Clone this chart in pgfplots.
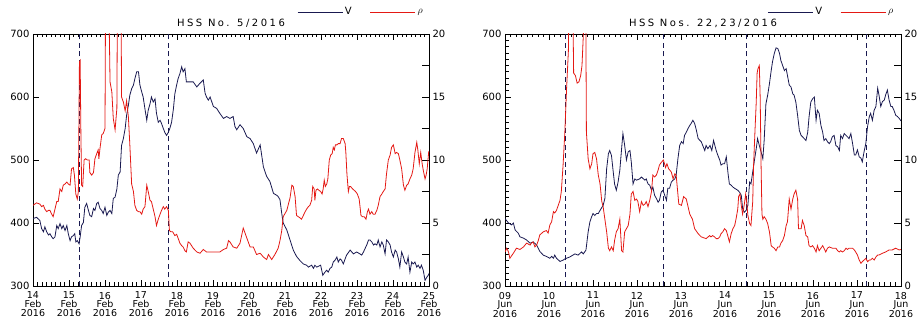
\documentclass[border=0pt]{standalone}
\usepackage{pgfplots}
\pgfplotsset{compat=1.18}
\usepackage{fontspec}
\setmainfont{DejaVu Sans}
\newfontfamily\lsfont[LetterSpace=25]{DejaVu Sans}
\definecolor{navy}{RGB}{25,25,80}
\definecolor{myred}{RGB}{228,25,20}
\pgfplotsset{
  base/.style={scale only axis, width=396pt, height=252pt,
    tick align=inside, major tick length=6pt, minor tick length=3.5pt,
    every tick/.style={black, line width=0.7pt},
    every minor tick/.style={black, line width=0.6pt},
    axis line style={black, line width=0.8pt},
    /pgf/number format/assume math mode=true,
    yticklabel style={font=\fontsize{10}{9}\selectfont},
    clip=true},
  vax/.style={base, ymin=300, ymax=700, ytick={300,400,...,700}, ytick pos=left,
    minor x tick num=7,
    xticklabel style={align=center, yshift=-2.5pt, font=\fontsize{9.5}{8.7}\selectfont},
    every axis title shift=0pt,
    title style={at={(0.5,1)}, anchor=base, yshift=7.5pt, font=\lsfont\fontsize{10}{12}\selectfont}},
  rax/.style={base, ymin=0, ymax=20, axis x line=none, axis y line*=right,
    ytick={0,2.5,5,7.5,10,12.5,15,17.5,20}, yticklabels={0,,5,,10,,15,,20},
    major tick length=7pt,
    legend style={anchor=west, yshift=22pt, xshift=2pt, draw=none, fill=none, legend columns=2,
      font=\fontsize{10}{10}\selectfont,
      /tikz/every even column/.append style={column sep=16pt}},
    legend image code/.code={\draw[#1] (0pt,0pt) -- (45pt,0pt);}},
  vline/.style={navy, line width=0.8pt},
  rline/.style={myred, line width=0.8pt},
  dline/.style={navy, line width=0.8pt, dash pattern=on 5pt off 3.5pt}
}
\begin{document}
\begin{tikzpicture}
\path[use as bounding box] (-33pt,-40pt) rectangle (888pt,286pt);
% ---------------- LEFT PANEL ----------------
\begin{axis}[vax, at={(0pt,0pt)}, xmin=14, xmax=25, xtick={14,...,25},
  xticklabels={{14\\Feb\\2016},{15\\Feb\\2016},{16\\Feb\\2016},{17\\Feb\\2016},{18\\Feb\\2016},{19\\Feb\\2016},{20\\Feb\\2016},{21\\Feb\\2016},{22\\Feb\\2016},{23\\Feb\\2016},{24\\Feb\\2016},{25\\Feb\\2016}},
  title={HSS No. 5/2016}]
\addplot[dline] coordinates {(15.28,300) (15.28,700)};
\addplot[dline] coordinates {(17.77,300) (17.77,700)};
\addplot[vline] table {
14.00 407
14.10 409
14.19 404
14.24 391
14.29 386
14.33 394
14.38 386
14.43 381
14.47 383
14.52 378
14.56 375
14.61 378
14.66 396
14.70 391
14.75 399
14.80 391
14.84 396
14.89 388
14.94 396
14.98 383
15.03 372
15.07 378
15.12 380
15.16 383
15.19 370
15.23 372
15.28 367
15.31 378
15.35 396
15.40 401
15.44 425
15.49 431
15.54 420
15.58 412
15.63 410
15.68 423
15.72 420
15.77 431
15.81 433
15.86 423
15.91 420
15.95 415
16.00 425
16.05 412
16.09 417
16.14 420
16.19 415
16.23 439
16.28 441
16.33 454
16.37 476
16.42 481
16.46 523
16.51 534
16.56 550
16.60 571
16.65 587
16.69 603
16.74 613
16.79 619
16.83 629
16.88 640
16.93 640
16.97 619
17.02 608
17.06 600
17.11 581
17.16 563
17.20 579
17.25 589
17.29 600
17.34 592
17.39 597
17.43 574
17.48 560
17.53 563
17.57 558
17.62 550
17.66 544
17.71 539
17.76 544
17.80 550
17.85 560
17.90 581
17.94 605
17.99 619
18.03 629
18.08 637
18.13 648
18.17 640
18.22 645
18.26 624
18.31 624
18.36 624
18.45 624
18.55 616
18.64 622
18.73 627
18.78 606
18.82 600
18.87 595
18.92 600
19.01 585
19.10 582
19.19 574
19.29 566
19.38 569
19.47 566
19.56 569
19.61 553
19.66 548
19.75 556
19.84 550
19.94 537
20.03 534
20.12 526
20.21 511
20.31 524
20.40 489
20.49 474
20.58 466
20.68 447
20.77 444
20.81 442
20.86 437
20.91 415
20.95 400
21.05 389
21.14 373
21.23 357
21.32 347
21.42 340
21.51 335
21.60 333
21.65 330
21.74 333
21.79 328
21.83 333
21.88 330
21.99 333
22.05 317
22.11 322
22.16 325
22.20 322
22.25 328
22.30 330
22.34 338
22.39 341
22.44 346
22.48 338
22.53 343
22.57 341
22.62 335
22.67 343
22.71 349
22.81 357
22.90 351
22.99 354
23.08 351
23.13 349
23.18 354
23.22 359
23.27 365
23.32 373
23.36 373
23.41 370
23.46 365
23.50 367
23.55 365
23.59 373
23.64 362
23.69 370
23.73 365
23.78 351
23.82 373
23.87 370
23.92 365
23.96 354
24.01 346
24.06 357
24.10 354
24.15 343
24.19 330
24.24 354
24.29 346
24.33 338
24.38 335
24.42 346
24.47 322
24.52 338
24.56 335
24.61 338
24.66 330
24.70 333
24.75 328
24.79 333
24.84 325
24.89 309
24.94 314
24.98 317
25.00 320
};
\end{axis}
\begin{axis}[rax, at={(0pt,0pt)}, xmin=14, xmax=25, legend style={at={(0.654,1)}}]
\addlegendimage{vline}
\addlegendentry{V}
\addplot[rline] table {
14.00 6.4
14.10 6.6
14.19 6.5
14.24 6.3
14.29 6.4
14.33 6.1
14.38 5.9
14.43 6.0
14.47 6.0
14.52 5.7
14.56 5.5
14.61 6.1
14.66 6.7
14.70 6.7
14.75 7.7
14.80 7.5
14.84 8.0
14.89 8.1
14.94 8.25
14.98 8.1
15.03 8.0
15.07 9.3
15.12 9.4
15.15 8.8
15.19 7.3
15.23 6.9
15.26 7.5
15.29 17.8
15.31 17.9
15.33 12.2
15.35 8.0
15.38 7.9
15.42 10.0
15.46 10.1
15.51 10.0
15.56 10.0
15.58 9.0
15.63 8.8
15.68 9.0
15.72 10.1
15.77 10.5
15.81 10.8
15.83 10.1
15.86 10.9
15.91 12.0
15.95 12.1
16.00 12.5
16.02 26
16.09 26
16.14 16.2
16.19 15.4
16.23 13.3
16.28 12.4
16.33 14.1
16.35 26
16.44 26
16.46 15.0
16.51 14.6
16.56 13.9
16.60 14.7
16.65 13.4
16.69 11.2
16.74 8.1
16.79 7.5
16.83 6.4
16.88 6.0
16.93 5.9
16.97 5.9
17.02 5.7
17.06 6.1
17.11 6.3
17.16 8.0
17.20 7.5
17.25 6.8
17.29 6.7
17.34 6.1
17.39 5.5
17.43 4.8
17.48 5.3
17.53 5.7
17.57 6.0
17.62 6.3
17.66 6.1
17.71 6.3
17.76 6.0
17.79 4.4
17.83 4.3
17.88 4.3
17.94 4.0
17.99 4.1
18.03 3.8
18.08 3.4
18.13 3.2
18.17 3.1
18.22 2.8
18.26 2.7
18.31 3.5
18.36 3.4
18.45 3.0
18.55 2.7
18.64 2.6
18.73 2.9
18.82 2.7
18.92 2.7
19.01 2.7
19.10 2.7
19.19 2.7
19.29 2.9
19.38 3.0
19.43 3.6
19.47 3.5
19.56 3.1
19.66 3.0
19.75 3.4
19.84 4.6
19.94 3.8
20.03 3.1
20.12 3.1
20.21 2.5
20.31 2.6
20.40 2.3
20.49 2.1
20.54 2.5
20.63 2.1
20.72 2.5
20.81 3.0
20.86 3.6
20.91 4.4
20.95 5.5
21.05 6.0
21.14 7.0
21.19 8.0
21.23 7.9
21.28 7.1
21.32 5.6
21.42 5.4
21.46 5.3
21.51 5.6
21.56 5.9
21.60 6.1
21.65 6.3
21.69 6.4
21.74 6.8
21.77 7.9
21.81 7.7
21.83 6.8
21.86 7.6
21.90 7.7
21.94 7.6
21.99 7.5
22.03 7.3
22.06 7.7
22.09 8.4
22.12 7.9
22.16 8.1
22.19 8.5
22.23 10.0
22.27 10.4
22.31 10.5
22.34 11.0
22.37 10.8
22.40 11.2
22.44 11.2
22.48 11.3
22.53 11.3
22.57 11.7
22.62 11.7
22.67 11.3
22.69 10.6
22.72 8.9
22.76 7.5
22.79 7.9
22.82 7.9
22.88 7.7
22.92 7.6
22.96 7.5
23.01 7.3
23.06 6.9
23.08 6.4
23.11 5.6
23.15 5.5
23.20 5.5
23.25 5.3
23.29 5.9
23.32 6.1
23.36 5.7
23.41 5.9
23.45 5.7
23.50 5.7
23.55 6.0
23.59 6.4
23.64 7.1
23.69 7.3
23.73 7.5
23.78 7.7
23.82 8.9
23.87 10.0
23.92 10.4
23.96 11.0
24.01 11.2
24.06 10.5
24.10 10.6
24.15 10.5
24.19 10.0
24.24 9.3
24.29 8.0
24.33 7.6
24.38 8.0
24.42 8.1
24.47 8.5
24.52 8.8
24.56 9.3
24.61 10.6
24.66 11.4
24.69 10.8
24.73 9.7
24.77 10.6
24.81 9.7
24.84 9.2
24.89 8.5
24.92 8.8
24.95 9.3
24.99 10.6
25.00 10.7
};
\addlegendentry{$\rho$}
\end{axis}
% ---------------- RIGHT PANEL ----------------
\begin{axis}[vax, at={(472pt,0pt)}, xmin=9, xmax=18, xtick={9,...,18}, minor y tick num=9,
  xticklabels={{09\\Jun\\2016},{10\\Jun\\2016},{11\\Jun\\2016},{12\\Jun\\2016},{13\\Jun\\2016},{14\\Jun\\2016},{15\\Jun\\2016},{16\\Jun\\2016},{17\\Jun\\2016},{18\\Jun\\2016}},
  title={HSS Nos. 22,23/2016}]
\addplot[dline] coordinates {(10.37,300) (10.37,700)};
\addplot[dline] coordinates {(12.61,300) (12.61,700)};
\addplot[dline] coordinates {(14.49,300) (14.49,700)};
\addplot[dline] coordinates {(17.22,300) (17.22,700)};
\addplot[vline] table {
9.00 407
9.08 400
9.15 397
9.19 400
9.23 389
9.30 384
9.34 378
9.42 376
9.49 373
9.57 368
9.64 370
9.72 365
9.79 355
9.87 349
9.94 347
10.02 344
10.06 347
10.10 344
10.13 349
10.17 344
10.25 339
10.32 341
10.36 343
10.47 346
10.59 351
10.66 349
10.74 354
10.78 351
10.84 357
10.89 386
10.93 402
10.97 410
11.00 415
11.04 412
11.08 415
11.12 415
11.16 420
11.23 428
11.27 439
11.31 486
11.35 510
11.38 515
11.42 507
11.46 481
11.49 462
11.53 452
11.57 465
11.61 484
11.65 518
11.68 542
11.72 523
11.76 500
11.80 513
11.84 515
11.87 497
11.91 462
11.95 470
11.99 468
12.06 470
12.10 473
12.18 468
12.21 470
12.25 462
12.29 460
12.33 452
12.36 457
12.40 444
12.44 439
12.48 433
12.51 436
12.55 449
12.59 452
12.63 444
12.67 436
12.70 455
12.74 455
12.78 465
12.82 468
12.86 470
12.89 476
12.93 502
12.97 523
13.01 529
13.05 526
13.08 539
13.12 544
13.16 550
13.20 555
13.23 558
13.27 563
13.31 558
13.35 547
13.39 534
13.46 529
13.54 515
13.57 523
13.61 518
13.66 523
13.70 515
13.74 531
13.80 515
13.84 507
13.88 500
13.91 492
13.95 494
13.99 494
14.03 505
14.07 478
14.10 462
14.14 460
14.18 457
14.22 455
14.29 452
14.33 449
14.37 444
14.40 423
14.44 417
14.48 420
14.52 428
14.56 465
14.59 462
14.63 481
14.67 500
14.71 518
14.74 534
14.78 523
14.82 513
14.86 502
14.89 531
14.93 589
14.97 603
15.01 621
15.05 642
15.08 656
15.12 669
15.16 678
15.20 677
15.24 669
15.27 658
15.31 650
15.35 642
15.39 645
15.42 634
15.46 619
15.50 616
15.54 605
15.57 603
15.61 592
15.65 571
15.69 547
15.73 539
15.76 537
15.80 534
15.84 531
15.88 544
15.91 568
15.95 592
15.99 597
16.03 600
16.07 563
16.10 579
16.14 574
16.18 555
16.22 544
16.25 531
16.29 534
16.33 529
16.37 526
16.40 529
16.44 537
16.48 539
16.52 523
16.56 521
16.60 515
16.63 539
16.67 534
16.71 542
16.75 539
16.78 537
16.82 534
16.86 542
16.90 526
16.94 508
16.97 508
17.01 516
17.05 505
17.09 503
17.12 497
17.16 513
17.20 526
17.24 553
17.28 569
17.31 574
17.35 563
17.39 579
17.43 585
17.47 614
17.50 603
17.54 585
17.58 593
17.62 595
17.65 603
17.69 611
17.73 595
17.77 585
17.80 585
17.84 579
17.88 571
17.92 569
17.96 566
18.00 562
};
\end{axis}
\begin{axis}[rax, at={(472pt,0pt)}, xmin=9, xmax=18, legend style={at={(0.65,1)}}]
\addlegendimage{vline}
\addlegendentry{V}
\addplot[rline] table {
9.00 2.7
9.04 3.0
9.08 2.7
9.11 2.2
9.19 2.6
9.26 3.0
9.34 2.9
9.42 3.1
9.49 3.4
9.57 3.25
9.60 3.4
9.64 3.5
9.68 3.1
9.72 3.25
9.76 3.65
9.79 4.05
9.87 4.3
9.94 4.4
9.98 4.2
10.02 4.85
10.06 5.1
10.10 5.9
10.13 5.8
10.17 6.0
10.25 6.8
10.28 7.5
10.32 9.6
10.36 12.2
10.40 15.7
10.44 18.6
10.47 26
10.53 26
10.56 16.9
10.60 16.7
10.64 16.1
10.68 16.2
10.72 16.7
10.75 17.5
10.78 19.9
10.81 26
10.83 26
10.85 12.2
10.89 10.1
10.93 9.3
10.97 9.7
11.00 10.5
11.04 10.6
11.08 10.1
11.12 8.8
11.16 8.1
11.20 6.7
11.23 6.3
11.27 5.3
11.31 4.3
11.35 3.0
11.38 2.8
11.42 3.1
11.46 2.8
11.49 3.6
11.53 4.3
11.57 4.55
11.61 5.3
11.65 2.8
11.68 2.7
11.72 4.3
11.76 4.55
11.80 4.8
11.84 5.7
11.87 7.3
11.91 7.5
11.95 6.8
11.99 6.9
12.02 6.7
12.06 5.9
12.10 6.7
12.14 6.4
12.18 6.5
12.21 6.7
12.25 6.3
12.29 6.8
12.33 7.5
12.36 8.8
12.40 8.65
12.44 8.8
12.48 9.2
12.51 9.6
12.55 9.8
12.60 10.0
12.65 9.4
12.68 9.7
12.72 9.3
12.78 9.05
12.82 8.5
12.86 8.9
12.89 8.8
12.95 6.5
13.01 6.4
13.06 7.1
13.12 6.9
13.20 5.7
13.26 5.3
13.31 4.55
13.39 4.15
13.46 3.9
13.57 3.76
13.65 4.0
13.68 3.9
13.72 4.0
13.76 3.9
13.80 3.76
13.84 3.76
13.88 3.9
13.91 4.15
13.95 4.3
13.99 4.55
14.03 4.4
14.07 3.9
14.10 3.5
14.14 4.15
14.18 4.55
14.22 4.8
14.25 5.3
14.29 6.1
14.31 7.1
14.34 7.3
14.37 6.4
14.40 5.7
14.44 6.5
14.47 7.3
14.50 6.4
14.52 5.6
14.56 4.95
14.59 4.8
14.63 6.7
14.65 9.6
14.68 12.2
14.71 14.6
14.73 16.9
14.75 17.25
14.78 17.5
14.80 14.9
14.82 9.6
14.84 5.7
14.86 5.3
14.89 5.5
14.93 5.3
14.97 4.95
15.01 4.3
15.05 3.2
15.08 3.1
15.12 3.0
15.16 2.8
15.20 3.1
15.24 3.1
15.27 3.4
15.31 3.6
15.35 4.0
15.39 4.8
15.42 5.1
15.46 6.9
15.50 6.1
15.54 6.9
15.57 7.3
15.61 7.6
15.65 6.9
15.67 4.55
15.73 4.55
15.76 5.2
15.80 4.8
15.84 4.0
15.88 3.9
15.91 3.2
15.95 3.1
15.99 3.2
16.03 3.0
16.07 2.7
16.10 3.2
16.14 2.8
16.18 3.0
16.22 3.2
16.25 3.0
16.29 2.7
16.33 3.0
16.37 3.1
16.44 3.0
16.52 3.0
16.56 2.8
16.60 2.7
16.63 2.8
16.67 2.7
16.71 2.8
16.75 3.0
16.78 2.9
16.82 3.0
16.90 3.0
16.94 2.86
16.97 2.7
17.01 2.46
17.05 2.06
17.09 1.8
17.12 1.93
17.16 2.06
17.20 2.2
17.24 1.93
17.28 2.06
17.31 2.06
17.35 2.2
17.39 2.06
17.43 2.3
17.47 2.46
17.50 2.46
17.58 2.6
17.65 2.7
17.73 2.86
17.80 2.86
17.88 3.0
17.96 2.86
18.00 2.9
};
\addlegendentry{$\rho$}
\end{axis}
\end{tikzpicture}
\end{document}
